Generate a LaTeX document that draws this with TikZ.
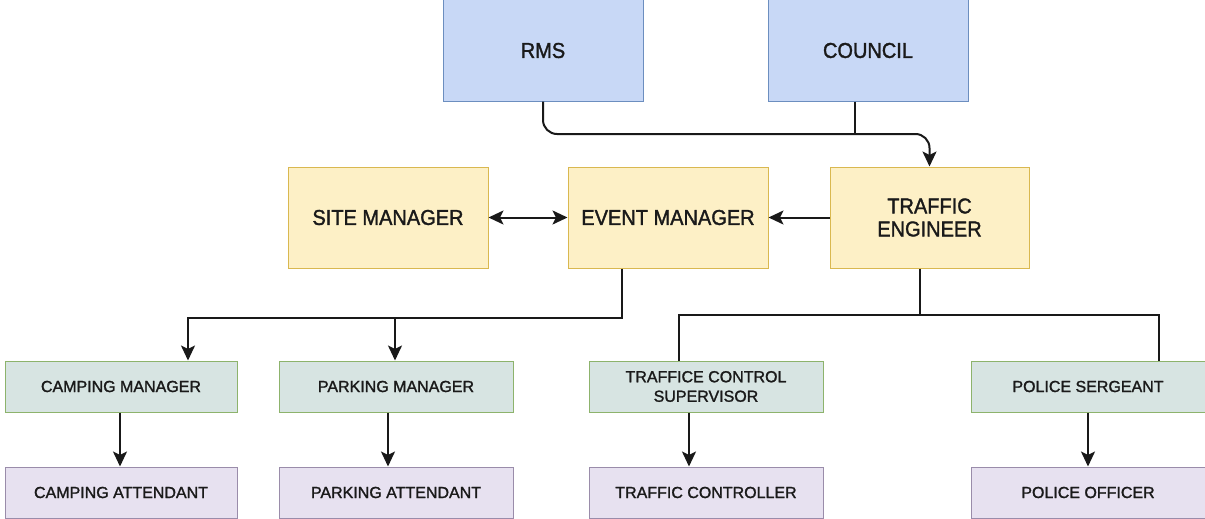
\documentclass[tikz,border=0pt]{standalone}
\usepackage{fontspec}
\setmainfont{Liberation Sans}
\newfontfamily\bigfont[FakeStretch=0.93,FakeBold=1.5]{Liberation Sans}
\newfontfamily\smallfont[FakeBold=1.5]{Liberation Sans}
\usetikzlibrary{arrows.meta}
\definecolor{bluefill}{HTML}{C8D8F6}
\definecolor{blueline}{HTML}{6C8EBF}
\definecolor{yelfill}{HTML}{FDF0C6}
\definecolor{yelline}{HTML}{D9B850}
\definecolor{grnfill}{HTML}{D7E4E2}
\definecolor{grnline}{HTML}{8DB36C}
\definecolor{purfill}{HTML}{E7E1F0}
\definecolor{purline}{HTML}{9A8CAA}
\definecolor{txt}{HTML}{1A1A1A}
\tikzset{
  bigbox/.style={rectangle, inner sep=0pt, line width=1pt, minimum width=200pt, minimum height=101pt,
    align=center, text=txt, font=\bigfont\fontsize{21.5}{23}\selectfont},
  topbox/.style={bigbox, fill=bluefill, draw=blueline},
  midbox/.style={bigbox, fill=yelfill, draw=yelline},
  smallbox/.style={rectangle, inner sep=0pt, line width=1pt, minimum width=234pt, minimum height=51pt,
    align=center, text=txt, font=\smallfont\fontsize{16}{19.5}\selectfont},
  mgrbox/.style={smallbox, fill=grnfill, draw=grnline},
  attbox/.style={smallbox, fill=purfill, draw=purline},
  conn/.style={line width=2pt, draw=black!90},
  arr/.style={conn, -{Stealth[length=15pt,width=14pt,inset=3.5pt]}},
  darr/.style={conn, {Stealth[length=15pt,width=14pt,inset=3.5pt]}-{Stealth[length=15pt,width=14pt,inset=3.5pt]}},
}
\begin{document}
\begin{tikzpicture}[x=1pt,y=-1pt]
\useasboundingbox[fill=white] (0,0) rectangle (1205,519);
% top row
\node[topbox] (rms) at (543,50.5) {RMS};
\node[topbox] (council) at (868,50.5) {COUNCIL};
% middle row
\node[midbox] (site) at (388,217.5) {SITE MANAGER};
\node[midbox] (event) at (668,217.5) {EVENT MANAGER};
\node[midbox, minimum width=199pt] (traffic) at (929.5,217.5) {TRAFFIC\\ENGINEER};
% managers
\node[mgrbox, minimum width=232pt] (campm) at (121,386.5) {CAMPING MANAGER};
\node[mgrbox] (parkm) at (396,386.5) {PARKING MANAGER};
\node[mgrbox] (superv) at (706,386.5) {TRAFFICE CONTROL\\SUPERVISOR};
\node[mgrbox] (sergeant) at (1088,386.5) {POLICE SERGEANT};
% attendants
\node[attbox, minimum width=232pt] (campa) at (121,492.5) {CAMPING ATTENDANT};
\node[attbox] (parka) at (396,492.5) {PARKING ATTENDANT};
\node[attbox] (tctrl) at (706,492.5) {TRAFFIC CONTROLLER};
\node[attbox] (police) at (1088,492.5) {POLICE OFFICER};
% junction points
\coordinate (j1) at (855,134);
% RMS/COUNCIL -> traffic engineer
\draw[arr, rounded corners=14pt] (rms.south) |- (j1) -| (traffic.north);
\draw[conn] ([xshift=-13pt]council.south) -- (j1);
% horizontal links
\draw[darr] (site.east) -- (event.west);
\draw[arr] (traffic.west) -- (event.east);
% event manager to managers
\coordinate (j2) at (395,318);
\draw[arr] ([xshift=-46pt]event.south) |- (j2) -| ([xshift=67pt]campm.north);
\draw[arr] (j2) -- (parkm.north -| j2);
% traffic engineer to supervisor and sergeant
\coordinate (j3) at (920,315);
\draw[conn] ([xshift=-27pt]superv.north) |- (j3) -| ([xshift=71pt]sergeant.north);
\draw[conn] ([xshift=-9.5pt]traffic.south) -- (j3);
% managers to attendants
\draw[arr] ([xshift=-1pt]campm.south) -- ([xshift=-1pt]campa.north);
\draw[arr] ([xshift=-8pt]parkm.south) -- ([xshift=-8pt]parka.north);
\draw[arr] ([xshift=-17pt]superv.south) -- ([xshift=-17pt]tctrl.north);
\draw[arr] (sergeant.south) -- (police.north);
\end{tikzpicture}
\end{document}
